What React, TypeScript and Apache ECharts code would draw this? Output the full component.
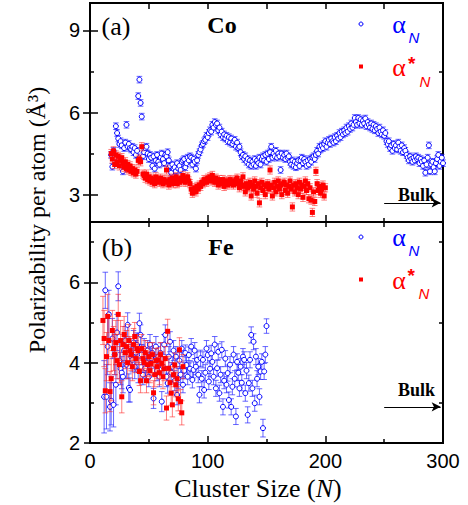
import React, { useEffect, useRef } from 'react';
import * as echarts from 'echarts';

// ---------- data ----------
const X_LABELS = [0, 100, 200, 300];
const X_MAJOR_TICKS = [100, 200];
const X_MINOR_TICKS = [50, 150, 250];
const X_TOP_TICKS = [50, 100, 150, 200, 250];
const CO_Y_LABELS = [3, 6, 9];
const CO_Y_MINOR = [4.5, 7.5];
const FE_Y_LABELS = [2, 4, 6];
const FE_Y_MINOR = [3, 5, 7];

// Co, alpha_N, cluster sizes 18..300
const CO_ALPHA_FIRST_N = 18;
const CO_ALPHA = [
  4.45, 4.02, 4.60, 4.35, 5.50, 5.25, 5.05, 4.85, 4.95, 4.80,
  3.85, 4.70, 4.90, 5.55, 4.75, 4.85, 4.70, 4.65, 4.75, 4.55,
  4.70, 4.45, 4.60, 6.60, 7.20, 6.35, 5.85, 4.40, 4.55, 4.70,
  4.75, 4.50, 4.30, 4.45, 4.35, 4.05, 4.40, 3.95, 4.25, 4.45,
  4.20, 4.10, 4.35, 4.50, 4.30, 4.15, 4.45, 4.40, 4.55, 4.25,
  4.05, 3.80, 4.10, 3.95, 4.00, 3.85, 4.15, 3.95, 4.05, 3.90,
  4.20, 4.25, 4.30, 4.00, 4.15, 4.35, 4.25, 4.40, 4.35, 4.10,
  4.30, 4.20, 3.95, 4.25, 4.45, 4.55, 4.65, 4.80, 4.85, 4.95,
  5.00, 5.15, 5.10, 5.25, 5.35, 5.30, 5.55, 5.45, 5.65, 5.55,
  5.60, 5.35, 5.45, 5.20, 5.30, 5.10, 5.20, 5.05, 5.15, 4.95,
  5.10, 4.90, 5.05, 4.85, 4.95, 5.00, 4.75, 4.90, 4.70, 4.75,
  4.55, 4.40, 4.45, 4.30, 4.40, 4.20, 4.30, 4.10, 4.25, 4.05,
  4.20, 4.10, 4.30, 4.05, 4.25, 4.15, 4.35, 4.10, 4.30, 4.40,
  4.25, 4.45, 4.20, 4.50, 4.30, 4.55, 4.75, 4.35, 4.50, 4.40,
  4.60, 4.35, 4.50, 4.40, 3.90, 4.50, 4.35, 4.45, 4.30, 4.50,
  4.35, 4.40, 4.20, 4.10, 4.25, 4.05, 4.20, 4.00, 4.15, 4.25,
  4.05, 4.25, 4.35, 4.15, 4.30, 4.20, 4.05, 4.25, 4.10, 4.30,
  4.20, 4.35, 4.40, 4.30, 4.45, 4.60, 4.50, 4.75, 4.65, 4.80,
  4.70, 4.85, 4.95, 4.75, 4.90, 5.00, 4.85, 5.05, 4.95, 4.90,
  5.10, 4.95, 5.15, 5.05, 5.25, 5.10, 5.30, 5.20, 5.35, 5.25,
  5.45, 5.30, 5.50, 5.40, 5.60, 5.45, 5.55, 5.80, 5.65, 5.55,
  5.80, 5.60, 5.75, 5.55, 5.70, 5.60, 5.78, 5.50, 5.65, 5.55,
  5.45, 5.60, 5.40, 5.55, 5.35, 5.50, 5.40, 5.25, 5.45, 5.30,
  5.20, 5.35, 5.15, 5.25, 4.95, 4.85, 4.95, 4.70, 4.80, 4.60,
  4.85, 4.70, 4.80, 4.65, 4.90, 4.75, 4.60, 4.80, 4.55, 4.70,
  4.60, 4.45, 4.35, 4.25, 4.40, 4.30, 4.20, 4.35, 4.25, 4.40,
  4.30, 4.35, 4.15, 4.30, 4.20, 4.05, 4.25, 3.80, 4.10, 4.35,
  4.80, 3.85, 4.10, 4.20, 4.00, 3.85, 4.15, 4.30, 4.45, 4.05,
  4.20, 4.35, 4.15,
];
const CO_ALPHA_ERR = 0.12;

// Co, alpha*_N, cluster sizes 18..200
const CO_STAR_FIRST_N = 18;
const CO_ALPHA_STAR = [
  4.50, 4.30, 4.60, 4.10, 4.45, 4.20, 4.40, 4.05, 4.25, 4.35,
  4.15, 4.00, 4.20, 3.95, 4.10, 3.90, 4.05, 3.85, 3.95, 3.80,
  3.90, 3.75, 3.85, 4.25, 4.30, 4.20, 4.75, 3.75, 3.70, 3.60,
  3.75, 3.55, 3.65, 3.50, 3.60, 3.45, 3.55, 3.40, 3.65, 3.50,
  3.55, 3.45, 3.60, 3.50, 3.40, 3.55, 3.45, 3.90, 3.50, 3.35,
  3.55, 3.45, 3.60, 3.40, 3.50, 3.65, 3.40, 3.55, 3.45, 3.60,
  3.50, 3.70, 3.55, 3.45, 3.60, 3.65, 3.50, 3.40, 3.20, 3.05,
  3.15, 3.25, 3.10, 3.30, 3.20, 3.35, 3.30, 3.45, 3.40, 3.55,
  3.50, 3.45, 3.60, 3.55, 3.65, 3.50, 3.70, 3.55, 3.45, 3.60,
  3.50, 3.35, 3.55, 3.45, 3.40, 3.55, 3.30, 3.45, 3.50, 3.35,
  3.45, 3.55, 3.40, 3.50, 3.35, 3.45, 3.55, 3.60, 3.40, 3.25,
  3.50, 3.35, 3.65, 3.30, 3.10, 3.40, 3.25, 3.30, 3.45, 2.95,
  3.35, 3.20, 3.50, 3.30, 3.05, 3.40, 2.70, 3.25, 3.45, 3.15,
  3.35, 3.00, 3.30, 3.40, 3.20, 3.90, 3.35, 2.95, 3.25, 3.45,
  3.10, 3.30, 3.50, 3.20, 3.35, 3.00, 3.40, 3.45, 3.15, 3.35,
  3.05, 3.30, 3.50, 3.20, 2.55, 3.35, 3.10, 3.40, 3.25, 3.00,
  3.45, 3.20, 3.35, 2.90, 3.30, 3.50, 3.15, 3.40, 2.85, 3.25,
  2.80, 2.35, 3.10, 2.75, 3.85, 3.40, 3.15, 3.30, 3.05, 3.20,
  3.35, 2.95, 3.25,
];
const CO_ALPHA_STAR_ERR = 0.15;

// Fe, alpha_N, cluster sizes 12..150
const FE_ALPHA_FIRST_N = 12;
const FE_ALPHA = [
  3.15, 5.80, 3.15, 4.40, 5.20, 2.90, 3.05, 4.60, 2.95, 4.20,
  3.45, 4.75, 5.90, 4.05, 3.85, 3.75, 3.65, 4.30, 4.55, 3.95,
  4.94, 3.37, 3.32, 4.15, 4.07, 4.50, 3.90, 4.25, 4.44, 3.80,
  4.98, 4.69, 4.20, 3.70, 4.35, 3.86, 4.00, 4.30, 3.65, 4.45,
  4.11, 4.24, 3.11, 3.95, 4.40, 3.80, 4.15, 3.65, 4.24, 3.03,
  3.90, 4.45, 4.69, 3.65, 3.49, 4.15, 4.52, 3.75, 3.90, 4.30,
  3.55, 4.15, 3.20, 3.61, 4.05, 3.70, 4.35, 3.45, 3.80, 4.24,
  3.94, 3.65, 4.19, 3.85, 4.40, 3.57, 3.82, 4.30, 3.90, 4.07,
  3.70, 3.20, 4.11, 3.60, 4.07, 3.32, 3.75, 4.35, 4.19, 3.53,
  3.85, 4.23, 4.02, 3.65, 4.45, 3.36, 3.86, 4.27, 3.24, 3.70,
  4.32, 2.90, 3.55, 4.10, 3.45, 3.74, 3.07, 3.95, 2.90, 3.40,
  4.20, 3.60, 2.66, 4.02, 3.75, 3.36, 3.90, 3.50, 4.15, 4.07,
  3.24, 3.80, 2.70, 3.49, 4.07, 4.69, 3.36, 4.52, 2.99, 4.15,
  3.60, 3.90, 3.15, 3.78, 4.02, 2.37, 3.78, 4.20, 4.91,
];
const FE_ALPHA_ERR = [
  0.90, 0.45, 0.80, 0.70, 0.60, 0.60, 0.60, 0.50, 0.55, 0.50,
  0.50, 0.45, 0.36, 0.45, 0.40, 0.40, 0.40, 0.40, 0.35, 0.35,
  0.30, 0.35, 0.30, 0.30, 0.30, 0.30, 0.30, 0.30, 0.30, 0.30,
  0.25, 0.25, 0.25, 0.25, 0.25, 0.25, 0.25, 0.25, 0.25, 0.25,
  0.25, 0.25, 0.25, 0.25, 0.25, 0.25, 0.25, 0.25, 0.25, 0.25,
  0.25, 0.25, 0.25, 0.25, 0.25, 0.25, 0.25, 0.25, 0.25, 0.25,
  0.25, 0.25, 0.25, 0.25, 0.20, 0.20, 0.20, 0.20, 0.20, 0.20,
  0.20, 0.20, 0.20, 0.20, 0.20, 0.20, 0.20, 0.20, 0.20, 0.20,
  0.20, 0.20, 0.20, 0.20, 0.20, 0.20, 0.20, 0.20, 0.20, 0.20,
  0.20, 0.20, 0.20, 0.20, 0.20, 0.20, 0.20, 0.20, 0.20, 0.20,
  0.20, 0.20, 0.20, 0.20, 0.20, 0.20, 0.20, 0.20, 0.20, 0.20,
  0.20, 0.20, 0.20, 0.20, 0.20, 0.20, 0.20, 0.20, 0.20, 0.20,
  0.20, 0.20, 0.20, 0.20, 0.20, 0.20, 0.20, 0.20, 0.20, 0.20,
  0.20, 0.20, 0.20, 0.20, 0.20, 0.22, 0.20, 0.20, 0.18,
];

// Fe, alpha*_N, cluster sizes 11..79
const FE_STAR_FIRST_N = 11;
const FE_ALPHA_STAR = [
  5.05, 4.60, 3.30, 4.15, 5.15, 4.55, 3.28, 3.60, 4.80, 4.35,
  4.20, 4.50, 4.05, 5.20, 3.95, 4.55, 3.15, 4.45, 4.70, 4.25,
  4.40, 4.00, 4.55, 4.30, 4.20, 3.90, 4.45, 4.65, 4.10, 4.35,
  4.30, 3.78, 3.55, 4.35, 4.10, 4.00, 4.25, 3.55, 3.95, 4.15,
  3.80, 3.98, 4.20, 3.25, 3.70, 4.05, 3.90, 4.07, 3.75, 4.20,
  3.98, 3.65, 3.85, 4.10, 2.87, 4.78, 3.86, 3.50, 3.24, 2.95,
  3.70, 3.94, 3.45, 3.60, 3.10, 4.32, 3.03, 2.75, 3.90,
];
const FE_ALPHA_STAR_ERR = [
  0.60, 0.70, 0.55, 0.60, 0.55, 0.60, 0.50, 0.55, 0.50, 0.55,
  0.50, 0.55, 0.45, 0.50, 0.45, 0.50, 0.40, 0.45, 0.45, 0.40,
  0.40, 0.40, 0.40, 0.35, 0.40, 0.35, 0.40, 0.35, 0.35, 0.35,
  0.35, 0.35, 0.30, 0.35, 0.30, 0.35, 0.30, 0.30, 0.30, 0.35,
  0.30, 0.30, 0.30, 0.30, 0.30, 0.30, 0.30, 0.30, 0.30, 0.30,
  0.30, 0.30, 0.30, 0.30, 0.30, 0.30, 0.30, 0.30, 0.30, 0.30,
  0.30, 0.30, 0.30, 0.30, 0.30, 0.30, 0.30, 0.30, 0.30,
];

const CO_BULK = 2.7;
const FE_BULK = 2.9;
const BULK_FROM = 250;
const BULK_TO = 298;

// ---------- styles ----------
const BLUE = '#0000ff';
const BLUE_BAR = 'rgba(40,40,255,0.7)';
const RED = '#ff0000';
const RED_BAR = 'rgba(255,40,40,0.6)';
const SERIF = '"Liberation Serif", "Times New Roman", serif';
const SANS = '"Liberation Sans", Arial, sans-serif';

const withErr = (first: number, vals: number[], err: number | number[]) =>
  vals.map((v, i) => [first + i, v, Array.isArray(err) ? err[i] : err]);

const errRender = (color: string) => (params: any, api: any) => {
  const x = api.value(0);
  const y = api.value(1);
  const e = api.value(2);
  const p1 = api.coord([x, y + e]);
  const p2 = api.coord([x, y - e]);
  const hw = 2.8;
  const style = { stroke: color, lineWidth: 1 };
  return {
    type: 'group',
    children: [
      { type: 'line', shape: { x1: p1[0], y1: p1[1], x2: p2[0], y2: p2[1] }, style },
      { type: 'line', shape: { x1: p1[0] - hw, y1: p1[1], x2: p1[0] + hw, y2: p1[1] }, style },
      { type: 'line', shape: { x1: p2[0] - hw, y1: p2[1], x2: p2[0] + hw, y2: p2[1] }, style },
    ],
  };
};

const tickLine = { color: '#000', width: 1.5 };

const xAx = (gridIndex: number, position: string, ticks: number[], len: number, labels?: number[]) => ({
  type: 'value',
  gridIndex,
  position,
  min: 0,
  max: 300,
  axisLine: { show: false },
  splitLine: { show: false },
  axisTick: { show: true, inside: true, length: len, customValues: ticks, lineStyle: tickLine },
  axisLabel: labels
    ? { show: true, customValues: labels, margin: 8, color: '#000', fontFamily: SANS, fontSize: 20 }
    : { show: false },
});

const yAx = (gridIndex: number, position: string, min: number, max: number, ticks: number[], len: number, labels?: number[]) => ({
  type: 'value',
  gridIndex,
  position,
  min,
  max,
  axisLine: { show: false },
  splitLine: { show: false },
  axisTick: { show: true, inside: true, length: len, customValues: ticks, lineStyle: tickLine },
  axisLabel: labels
    ? { show: true, customValues: labels, margin: 10, color: '#000', fontFamily: SANS, fontSize: 20 }
    : { show: false },
});

const bulkLine = (value: number) => ({
  silent: true,
  symbol: ['none', 'arrow'],
  symbolSize: [7, 9],
  lineStyle: { color: '#000', width: 1.2, type: 'solid' },
  label: { show: false },
  emphasis: { disabled: true },
  data: [[{ coord: [BULK_FROM, value] }, { coord: [BULK_TO, value] }]],
});

const txt = (x: number, y: number, text: string, font: string, fill: string, extra: any = {}) => ({
  type: 'text',
  x,
  y,
  silent: true,
  ...extra,
  style: { text, font, fill, align: 'center', verticalAlign: 'middle' },
});

const legend = (dy: number, starN: [number, number], starAst: [number, number]) => [
  { type: 'circle', silent: true, shape: { cx: 361, cy: 24 + dy, r: 2 }, style: { fill: '#fff', stroke: BLUE, lineWidth: 1 } },
  txt(399, 24.5 + dy, 'α', `26px ${SERIF}`, BLUE),
  txt(414, 37.5 + dy, 'N', `italic 15px ${SANS}`, BLUE),
  { type: 'rect', silent: true, shape: { x: 359, y: 64.5 + dy, width: 4, height: 4 }, style: { fill: RED } },
  txt(399, 67 + dy, 'α', `26px ${SERIF}`, RED),
  txt(starAst[0], starAst[1] + dy, '*', `bold 19px ${SANS}`, RED),
  txt(starN[0], starN[1] + dy, 'N', `italic 15px ${SANS}`, RED),
];

export default function App() {
  const ref = useRef<HTMLDivElement>(null);

  useEffect(() => {
    if (!ref.current) return;
    const chart = echarts.init(ref.current, undefined, { renderer: 'svg' });

    const option: any = {
      animation: false,
      backgroundColor: '#fff',
      grid: [
        { left: 90, top: 3, width: 353, height: 219, show: true, borderColor: '#000', borderWidth: 2, backgroundColor: 'transparent' },
        { left: 90, top: 222, width: 353, height: 221, show: true, borderColor: '#000', borderWidth: 2, backgroundColor: 'transparent' },
      ],
      xAxis: [
        xAx(0, 'bottom', X_MAJOR_TICKS, 7),
        xAx(0, 'bottom', X_MINOR_TICKS, 4),
        xAx(0, 'top', X_TOP_TICKS, 6),
        xAx(1, 'top', X_TOP_TICKS, 5),
        xAx(1, 'bottom', X_MAJOR_TICKS, 7, X_LABELS),
        xAx(1, 'bottom', X_MINOR_TICKS, 4),
      ],
      yAxis: [
        yAx(0, 'left', 2, 10, CO_Y_LABELS, 8, CO_Y_LABELS),
        yAx(0, 'left', 2, 10, CO_Y_MINOR, 4),
        yAx(0, 'right', 2, 10, CO_Y_LABELS, 7),
        yAx(0, 'right', 2, 10, CO_Y_MINOR, 4),
        yAx(1, 'left', 2, 7.5, FE_Y_LABELS, 8, FE_Y_LABELS),
        yAx(1, 'left', 2, 7.5, FE_Y_MINOR, 4),
        yAx(1, 'right', 2, 7.5, FE_Y_LABELS, 6),
        yAx(1, 'right', 2, 7.5, FE_Y_MINOR, 4),
      ],
      series: [
        {
          type: 'custom', xAxisIndex: 0, yAxisIndex: 0, z: 1, silent: true,
          renderItem: errRender(BLUE_BAR), encode: { x: 0, y: 1 },
          data: withErr(CO_ALPHA_FIRST_N, CO_ALPHA, CO_ALPHA_ERR),
        },
        {
          type: 'scatter', xAxisIndex: 0, yAxisIndex: 0, z: 2, silent: true,
          symbol: 'circle', symbolSize: 5,
          itemStyle: { color: '#fff', borderColor: BLUE, borderWidth: 1, opacity: 1 },
          data: CO_ALPHA.map((v, i) => [CO_ALPHA_FIRST_N + i, v]),
          markLine: bulkLine(CO_BULK),
        },
        {
          type: 'custom', xAxisIndex: 0, yAxisIndex: 0, z: 3, silent: true,
          renderItem: errRender(RED_BAR), encode: { x: 0, y: 1 },
          data: withErr(CO_STAR_FIRST_N, CO_ALPHA_STAR, CO_ALPHA_STAR_ERR),
        },
        {
          type: 'scatter', xAxisIndex: 0, yAxisIndex: 0, z: 4, silent: true,
          symbol: 'rect', symbolSize: 5,
          itemStyle: { color: RED, opacity: 1 },
          data: CO_ALPHA_STAR.map((v, i) => [CO_STAR_FIRST_N + i, v]),
        },
        {
          type: 'custom', xAxisIndex: 4, yAxisIndex: 4, z: 1, silent: true,
          renderItem: errRender(BLUE_BAR), encode: { x: 0, y: 1 },
          data: withErr(FE_ALPHA_FIRST_N, FE_ALPHA, FE_ALPHA_ERR),
        },
        {
          type: 'scatter', xAxisIndex: 4, yAxisIndex: 4, z: 2, silent: true,
          symbol: 'circle', symbolSize: 5,
          itemStyle: { color: '#fff', borderColor: BLUE, borderWidth: 1, opacity: 1 },
          data: FE_ALPHA.map((v, i) => [FE_ALPHA_FIRST_N + i, v]),
          markLine: bulkLine(FE_BULK),
        },
        {
          type: 'custom', xAxisIndex: 4, yAxisIndex: 4, z: 3, silent: true,
          renderItem: errRender(RED_BAR), encode: { x: 0, y: 1 },
          data: withErr(FE_STAR_FIRST_N, FE_ALPHA_STAR, FE_ALPHA_STAR_ERR),
        },
        {
          type: 'scatter', xAxisIndex: 4, yAxisIndex: 4, z: 4, silent: true,
          symbol: 'rect', symbolSize: 5,
          itemStyle: { color: RED, opacity: 1 },
          data: FE_ALPHA_STAR.map((v, i) => [FE_STAR_FIRST_N + i, v]),
        },
      ],
      graphic: [
        txt(116, 26, '(a)', `26px ${SERIF}`, '#000'),
        txt(222, 25, 'Co', `bold 24px ${SERIF}`, '#000'),
        txt(117, 247, '(b)', `26px ${SERIF}`, '#000'),
        txt(221, 247, 'Fe', `bold 24px ${SERIF}`, '#000'),
        txt(416.5, 195, 'Bulk', `bold 18px ${SERIF}`, '#000'),
        txt(416.5, 390, 'Bulk', `bold 18px ${SERIF}`, '#000'),
        ...legend(0, [425, 81], [411.7, 63]),
        ...legend(213, [424, 80.5], [411.3, 62]),
        txt(37, 220, 'Polarizability per atom (Å³)', `24px ${SERIF}`, '#000', { rotation: Math.PI / 2 }),
        {
          type: 'text', x: 258, y: 488, silent: true,
          style: {
            text: '{r|Cluster Size (}{i|N}{r|)}',
            align: 'center', verticalAlign: 'middle',
            rich: {
              r: { fontFamily: SERIF, fontSize: 26, fill: '#000', color: '#000' },
              i: { fontFamily: SERIF, fontSize: 26, fontStyle: 'italic', fill: '#000', color: '#000' },
            },
          },
        },
      ],
    };

    chart.setOption(option);
    return () => chart.dispose();
  }, []);

  return (
    <div
      ref={ref}
      style={{ position: 'fixed', left: 0, top: 0, width: 468, height: 505, background: '#fff' }}
    />
  );
}
